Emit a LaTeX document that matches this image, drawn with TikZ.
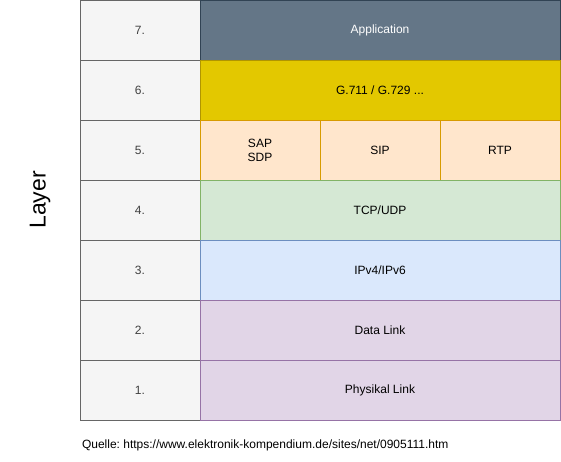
\documentclass[tikz,border=0pt]{standalone}
\usepackage{fontspec}
\setmainfont{Liberation Sans}
\usepackage{xcolor}
\usepackage{tikz}
\usetikzlibrary{positioning}
\frenchspacing

\definecolor{grayfill}{HTML}{F5F5F5}
\definecolor{graydraw}{HTML}{666666}
\definecolor{appfill}{HTML}{647687}
\definecolor{appdraw}{HTML}{314354}
\definecolor{codecfill}{HTML}{E3C800}
\definecolor{codecdraw}{HTML}{B09500}
\definecolor{sessfill}{HTML}{FFE6CC}
\definecolor{sessdraw}{HTML}{D79B00}
\definecolor{transfill}{HTML}{D5E8D4}
\definecolor{transdraw}{HTML}{82B366}
\definecolor{netfill}{HTML}{DAE8FC}
\definecolor{netdraw}{HTML}{6C8EBF}
\definecolor{linkfill}{HTML}{E1D5E7}
\definecolor{linkdraw}{HTML}{9673A6}

\begin{document}
\begin{tikzpicture}
  [
    x=1pt, y=-1pt,
    every node/.style={
       font=\fontsize{12}{14}\selectfont,
       inner sep=0pt,
       outer sep=0pt,
       line width=0.8pt
    },
    num/.style={
       minimum width=120pt,
       minimum height=60pt,
       fill=grayfill,
       draw=graydraw,
       text=black!75
    },
    wide/.style={
       minimum width=360pt,
       minimum height=60pt
    },
    third/.style={
       minimum width=120pt,
       minimum height=60pt,
       align=center
    }
  ]
  \useasboundingbox (0,0) rectangle (561,461);

  \node (l7) at (140, 30) [num] {7.};
  \node (l6) at (140, 90) [num] {6.};
  \node (l5) at (140,150) [num] {5.};
  \node (l4) at (140,210) [num] {4.};
  \node (l3) at (140,270) [num] {3.};
  \node (l2) at (140,330) [num] {2.};
  \node (l1) at (140,390) [num] {1.};

  \node (app)   at (380, 30) [wide, fill=appfill, draw=appdraw, text=white] {Application};
  \node (codec) at (380, 90) [wide, fill=codecfill, draw=codecdraw] {G.711 / G.729 ...};
  \node (sap)   at (260,150) [third, fill=sessfill, draw=sessdraw] {SAP\\SDP};
  \node (sip)   at (380,150) [third, fill=sessfill, draw=sessdraw] {SIP};
  \node (rtp)   at (500,150) [third, fill=sessfill, draw=sessdraw] {RTP};
  \node (tcp)   at (380,210) [wide, fill=transfill, draw=transdraw] {TCP/UDP};
  \node (ip)    at (380,270) [wide, fill=netfill, draw=netdraw] {IPv4/IPv6};
  \node (data)  at (380,330) [wide, fill=linkfill, draw=linkdraw] {Data Link};
  \node (phys)  at (380,390) [wide, fill=linkfill, draw=linkdraw] {Physikal Link};

  \node (layer) at (40,200) [rotate=90, font=\fontsize{23}{26}\selectfont] {Layer};

  \node (quelle) at (82,445) [anchor=west] {Quelle: https://www.elektronik-kompendium.de/sites/net/0905111.htm};
\end{tikzpicture}
\end{document}
